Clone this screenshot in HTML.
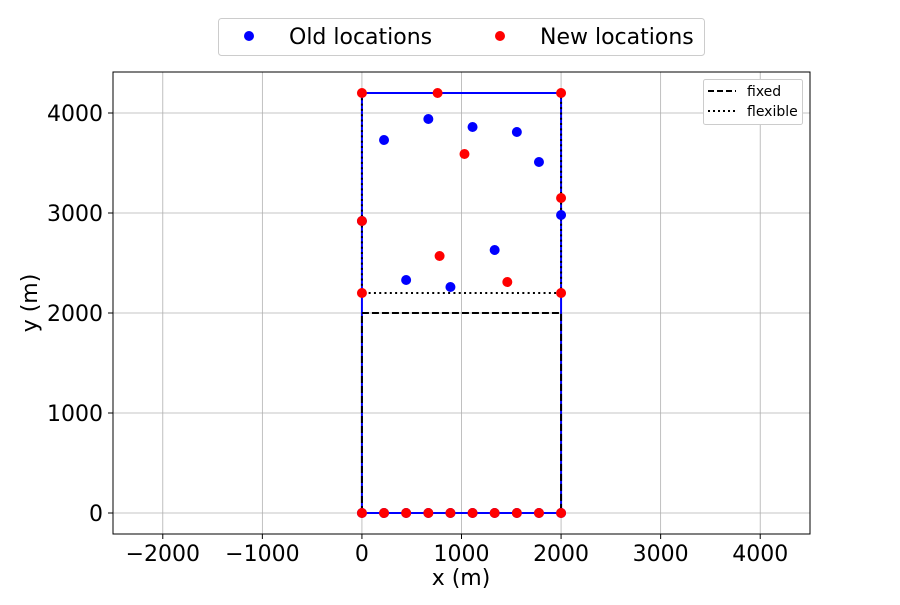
<!DOCTYPE html>
<html><head><meta charset="utf-8"><style>body{margin:0;background:#fff}svg{font-family:"DejaVu Sans","Liberation Sans",sans-serif}</style></head>
<body>
<svg id="c" width="900" height="600" xmlns="http://www.w3.org/2000/svg"></svg>
<script>
const xTicks=[-2000,-1000,0,1000,2000,3000,4000];
const yTicks=[0,1000,2000,3000,4000];
const oldX=[0,222,444,667,889,1111,1333,1556,1778,2000,0,2000,222,667,1111,1556,1778,1333,444,889];
const oldY=[0,0,0,0,0,0,0,0,0,0,2920,2980,3730,3940,3860,3810,3510,2630,2330,2260];
const newX=[0,222,444,667,889,1111,1333,1556,1778,2000,0,0,0,760,2000,2000,2000,1030,780,1460];
const newY=[0,0,0,0,0,0,0,0,0,0,4200,2920,2200,4200,4200,3150,2200,3590,2570,2310];
const fixedY=[2000];
const flexY=[2200];
const L=113,R=810,T=72,B=534,x0=-2500,x1=4500,y0=-210,y1=4410;
const sx=v=>L+(v-x0)/(x1-x0)*(R-L), sy=v=>B-(v-y0)/(y1-y0)*(B-T);
const s=document.getElementById('c');const NS='http://www.w3.org/2000/svg';
function mk(t,a,p){const e=document.createElementNS(NS,t);for(const k in a)e.setAttribute(k,a[k]);(p||s).appendChild(e);return e;}
xTicks.forEach(v=>{const g=mk('line',{x1:sx(v),x2:sx(v),y1:T,y2:B,stroke:'#b0b0b0','stroke-width':0.8});

mk('line',{x1:sx(v),x2:sx(v),y1:B,y2:B+5,stroke:'#000'});
const t=mk('text',{x:sx(v),y:B+27,'text-anchor':'middle','font-size':22});t.textContent=v<0?'\u2212'+(-v):v;
});
yTicks.forEach(v=>{const g=mk('line',{x1:L,x2:R,y1:sy(v),y2:sy(v),stroke:'#b0b0b0','stroke-width':0.8});

mk('line',{x1:L-5,x2:L,y1:sy(v),y2:sy(v),stroke:'#000'});
const t=mk('text',{x:L-10,y:sy(v)+8,'text-anchor':'end','font-size':22});t.textContent=v;
});
const rect=mk('rect',{x:sx(0),y:sy(4200),width:sx(2000)-sx(0),height:sy(0)-sy(4200),fill:'none',stroke:'#0000ff','stroke-width':2});

fixedY.forEach(v=>{const p=mk('path',{d:`M${sx(0)},${sy(0)}V${sy(v)}H${sx(2000)}V${sy(0)}`,fill:'none',stroke:'#000','stroke-width':2,'stroke-dasharray':'7,3'});
});
flexY.forEach(v=>{const p=mk('path',{d:`M${sx(0)},${sy(4200)}V${sy(v)}H${sx(2000)}V${sy(4200)}`,fill:'none',stroke:'#000','stroke-width':2,'stroke-dasharray':'2,3.3'});
});
oldX.forEach((v,i)=>{const c=mk('circle',{cx:sx(v),cy:sy(oldY[i]),r:5,fill:'#0000ff'});
});
newX.forEach((v,i)=>{const c=mk('circle',{cx:sx(v),cy:sy(newY[i]),r:5,fill:'#ff0000'});
});
const fr=mk('rect',{x:L,y:T,width:R-L,height:B-T,fill:'none',stroke:'#000','stroke-width':1});

</script>
<svg style="position:absolute;left:0;top:0" width="900" height="600">
<text x="461" y="585" text-anchor="middle" font-size="22">x (m)</text>
<text transform="translate(37,303) rotate(-90)" text-anchor="middle" font-size="22">y (m)</text>
<g>
<rect x="218.5" y="18.5" width="486" height="37" rx="3" fill="#fff" stroke="#ccc"/>
<circle cx="249" cy="36" r="5" fill="#0000ff"/>
<text x="289" y="44" font-size="22">Old locations</text>
<circle cx="500" cy="36" r="5" fill="#ff0000"/>
<text x="540" y="44" font-size="22">New locations</text>
</g>
<g>
<rect x="703.5" y="79.5" width="99" height="45" rx="2" fill="#fff" stroke="#ccc"/>
<line x1="708" x2="736" y1="91" y2="91" stroke="#000" stroke-width="2" stroke-dasharray="6,3"/>
<text x="747" y="96" font-size="14">fixed</text>
<line x1="708" x2="736" y1="111" y2="111" stroke="#000" stroke-width="2" stroke-dasharray="2,3"/>
<text x="747" y="116" font-size="14">flexible</text>
</g>
</svg>
</body></html>
